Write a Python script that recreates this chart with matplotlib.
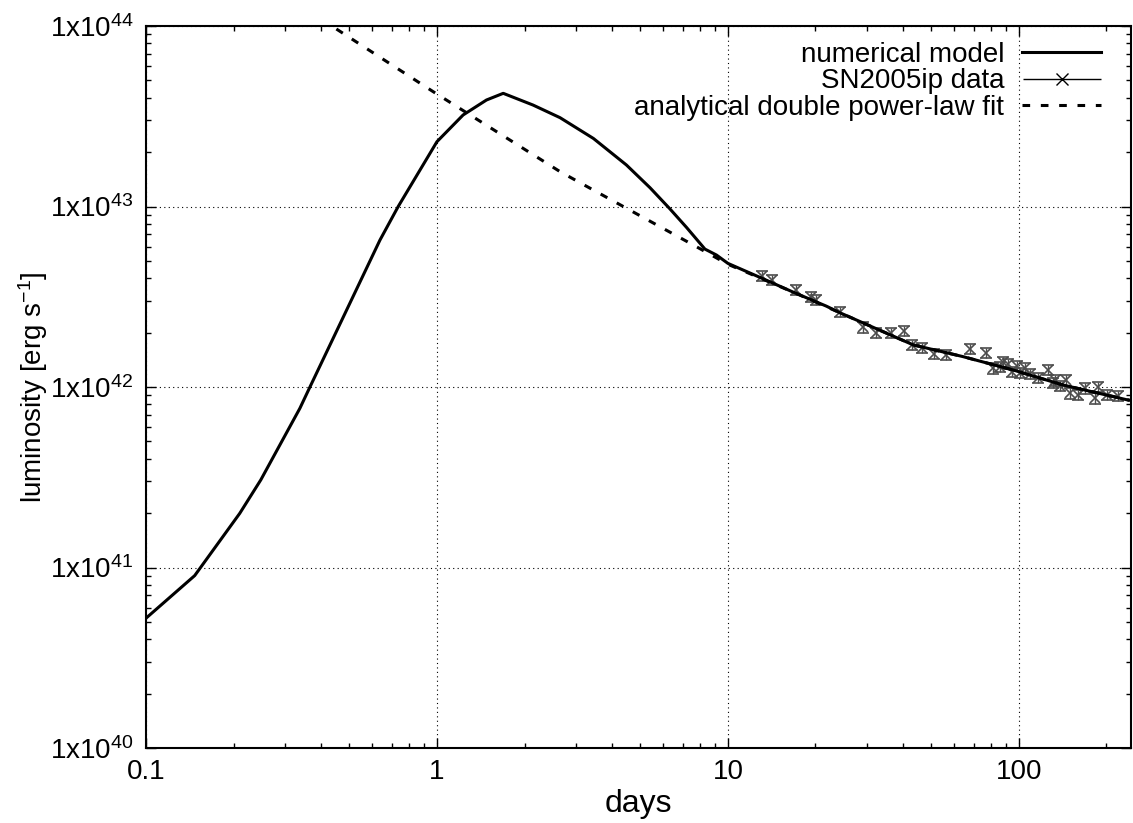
import numpy as np
import matplotlib
matplotlib.use('Agg')
import matplotlib.pyplot as plt
from matplotlib.ticker import FuncFormatter, LogLocator, FixedLocator
from matplotlib.legend_handler import HandlerErrorbar
from matplotlib.container import ErrorbarContainer

plt.rcParams['font.family'] = ['Liberation Sans', 'DejaVu Sans']
plt.rcParams['mathtext.fontset'] = 'custom'
plt.rcParams['mathtext.rm'] = 'Liberation Sans'
plt.rcParams['mathtext.it'] = 'Liberation Sans'

# numerical model (days, log10 L)
model_t = [0.1, 0.147, 0.21, 0.248, 0.338, 0.366, 0.502, 0.637, 0.736, 1.0,
           1.23, 1.48, 1.69, 2.14, 2.65, 3.45, 4.48, 5.40, 6.32,
           7.21, 8.34, 9.14, 10.0, 12.9, 16.8, 21.8, 24.3, 43.4, 64.4,
           95.7, 142.0, 237.0]
model_logL = [40.719, 40.955, 41.300, 41.485, 41.882, 42.0, 42.464, 42.814, 43.0, 43.359,
              43.507, 43.590, 43.627, 43.562, 43.492, 43.377, 43.230, 43.104, 42.987,
              42.884, 42.764, 42.731, 42.685, 42.607, 42.525, 42.448, 42.411, 42.233, 42.168,
              42.094, 42.011, 41.928]

# analytical double power-law fit
fit_t = [0.40, 0.435, 0.971, 2.65, 3.45, 7.8, 10.0, 16.8, 24.3, 43.4, 64.4, 95.7, 142.0, 243.0]
fit_logL = [44.04, 44.0, 43.636, 43.193, 43.091, 42.777, 42.680, 42.525, 42.411, 42.233,
            42.168, 42.094, 42.011, 41.925]

# SN2005ip data
sn_t = [13.06, 14.13, 17.13, 19.28, 20.07, 24.26, 29.17, 32.18, 36.24, 40.26,
        43.1, 46.3, 51.0, 56.4, 67.9, 77.0, 81.6, 86.0, 88.3, 91.7,
        94.6, 98.2, 100.8, 104.9, 109.1, 116.2, 126.1, 130.9, 133.0, 138.3,
        145.8, 149.7, 159.9, 168.6, 182.5, 187.3, 200.2, 219.4]
sn_L = [4.12e42, 3.92e42, 3.45e42, 3.15e42, 3.03e42, 2.60e42, 2.14e42, 2.00e42, 2.00e42, 2.04e42,
        1.71e42, 1.65e42, 1.52e42, 1.50e42, 1.62e42, 1.55e42, 1.27e42, 1.29e42, 1.38e42, 1.34e42,
        1.21e42, 1.31e42, 1.20e42, 1.27e42, 1.18e42, 1.12e42, 1.24e42, 1.05e42, 1.09e42, 1.01e42,
        1.09e42, 9.23e41, 9.03e41, 9.84e41, 8.66e41, 1.00e42, 9.03e41, 8.90e41]
sn_relerr = 0.065

fig = plt.figure(figsize=(11.33, 8.23), dpi=100)
ax = fig.add_axes([146 / 1133, 75 / 823, 985 / 1133, 722 / 823])

ax.set_xscale('log')
ax.set_yscale('log')
ax.set_xlim(0.1, 243)
ax.set_ylim(1e40, 1e44)

model_L = [10 ** v for v in model_logL]
fit_L = [10 ** v for v in fit_logL]
sn_err = [v * sn_relerr for v in sn_L]

line_model, = ax.plot(model_t, model_L, color='black', lw=2.2, zorder=4)
ax.errorbar(sn_t, sn_L, yerr=sn_err, fmt='x', color='#4d4d4d', ms=7.5, mew=1.2,
            elinewidth=1.0, capsize=4, capthick=1.0, zorder=3)
line_fit, = ax.plot(fit_t, fit_L, color='black', lw=2.2, ls=(0, (2.5, 3.5)), zorder=5)

# legend proxy: horizontal bar with caps, like gnuplot
proxy = ax.errorbar([], [], xerr=[], fmt='x', color='black', ms=8, mew=1.0,
                    elinewidth=1.0, capsize=5, capthick=1.0)

leg = ax.legend([line_model, proxy, line_fit],
                ['numerical model', 'SN2005ip data', 'analytical double power-law fit'],
                loc='upper right', bbox_to_anchor=(0.991, 1.007),
                frameon=False, markerfirst=False, fontsize=20,
                handlelength=2.85, handletextpad=0.65, labelspacing=0.02,
                borderaxespad=0.55, borderpad=0.2,
                handler_map={ErrorbarContainer: HandlerErrorbar(xerr_size=1.4)})

# grid and ticks
ax.grid(True, which='major', ls=(0, (1, 3)), color='black', lw=0.8)
ax.xaxis.set_major_locator(FixedLocator([0.1, 1, 10, 100]))
ax.xaxis.set_minor_locator(LogLocator(base=10, subs=np.arange(2, 10)))
ax.yaxis.set_minor_locator(LogLocator(base=10, subs=np.arange(2, 10)))
ax.xaxis.set_major_formatter(FuncFormatter(lambda v, p: '%g' % v))
ax.yaxis.set_major_formatter(FuncFormatter(
    lambda v, p: r'$\mathregular{1x10^{%d}}$' % round(np.log10(v))))
ax.tick_params(which='both', direction='in', top=True, right=True, labelsize=20)
ax.tick_params(which='major', length=7, width=1.0)
ax.tick_params(which='minor', length=3.5, width=1.0)
ax.tick_params(axis='x', which='major', pad=8)
ax.tick_params(axis='y', which='major', pad=9)
for sp in ax.spines.values():
    sp.set_linewidth(1.5)

ax.set_xlabel('days', fontsize=23, labelpad=3)
ax.set_ylabel(r'luminosity [erg s$^{\mathregular{-1}}$]', fontsize=20, labelpad=0)

fig.savefig('out.png', dpi=100)
